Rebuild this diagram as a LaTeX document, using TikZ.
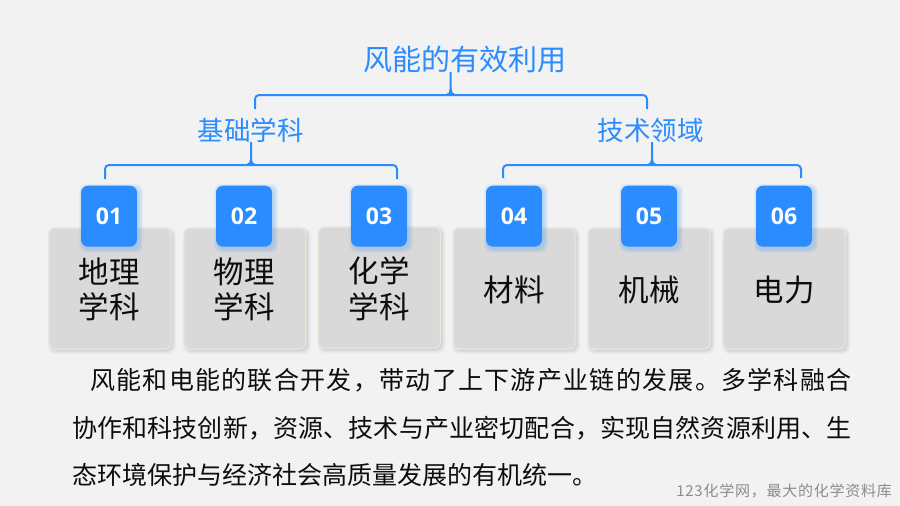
\documentclass[tikz,border=0pt]{standalone}
\usepackage{fontspec}
\setmainfont{Noto Sans CJK SC}
\newfontfamily\numfont{Open Sans}
\newfontfamily\paraA[LetterSpace=5.2]{Noto Sans CJK SC}
\newfontfamily\paraB[LetterSpace=0.6]{Noto Sans CJK SC}
\newfontfamily\markfont[LetterSpace=5]{Noto Sans CJK SC}
\usetikzlibrary{calc}
\definecolor{pagebg}{HTML}{F2F2F2}
\definecolor{cardgrey}{HTML}{D9D9D9}
\definecolor{cardedge}{HTML}{EDE8DA}
\definecolor{accent}{HTML}{2A8CFF}
\definecolor{inktext}{HTML}{0D0D0D}
\definecolor{markgrey}{HTML}{8C8C8C}
\tikzset{
  headline/.style={text=accent,inner sep=0pt,font=\fontsize{29}{34}\selectfont},
  subhead/.style={text=accent,inner sep=0pt,font=\fontsize{26.5}{32}\selectfont},
  card/.style={fill=cardgrey,draw=cardedge,line width=1pt,rounded corners=6pt,minimum width=122pt,minimum height=121pt,inner sep=0pt},
  cardtext/.style={inner sep=0pt,align=center,text=inktext,font=\fontsize{30.5}{35.5}\selectfont},
  badge/.style={fill=accent,rounded corners=7pt,minimum width=56pt,minimum height=61pt,inner sep=0pt,text=white,font=\numfont\bfseries\fontsize{23}{28}\selectfont},
  conn/.style={draw=accent,line width=2pt},
  para/.style={anchor=west,inner sep=0pt,text=inktext},
}
% soft shadow around a rectangle given by centre and size
\newcommand{\softshade}[6]{%
  \foreach \k in {1,...,5}{%
    \fill[#5,opacity=#6,rounded corners=7pt]
      ({#1-#3/2+2-\k*0.8},{#2-#4/2+2-\k*0.8}) rectangle ({#1+#3/2+2+\k*0.8},{#2+#4/2+2+\k*0.8});
  }%
}
\newcommand{\topic}[6]{% name, x, y, number, text, y of card
  \softshade{#2}{#6}{120}{119}{black}{0.025}
  \node[card] (card#1) at (#2,#6) {};
  \node[cardtext] (text#1) at (#3,#6+1) {#5};
  \softshade{#3}{216.2}{56}{61}{accent}{0.05}
  \node[badge] (badge#1) at (#3,216.2) {#4};
}
\newcommand{\bracket}[4]{% left, middle, right, tip
  \draw[conn,rounded corners=4pt] (#1) |- (#2) -| (#3);
  \draw[conn] ([xshift=-4pt]#2) to[out=0,in=270] ([yshift=6pt]#2) -- (#4);
  \draw[conn] ([xshift=4pt]#2) to[out=180,in=270] ([yshift=6pt]#2);
}
\begin{document}
\begin{tikzpicture}[x=1pt,y=-1pt]
\useasboundingbox (0,0) rectangle (900,506);
\fill[pagebg] (0,0) rectangle (900,506);

\node[headline] (title) at (464.5,59.5) {风能的有效利用};
\node[subhead] (basic) at (250.8,130.3) {基础学科};
\node[subhead] (tech) at (650.7,130.3) {技术领域};

\coordinate (b1l) at (255,109);
\coordinate (b1m) at (450.7,95);
\coordinate (b1r) at (647,109);
\coordinate (b1t) at (450.7,72);
\bracket{b1l}{b1m}{b1r}{b1t}

\coordinate (b2l) at (105,179);
\coordinate (b2m) at (251,165);
\coordinate (b2r) at (397,179);
\coordinate (b2t) at (251,142);
\bracket{b2l}{b2m}{b2r}{b2t}

\coordinate (b3l) at (503,178);
\coordinate (b3m) at (652,165);
\coordinate (b3r) at (801,178);
\coordinate (b3t) at (652,142);
\bracket{b3l}{b3m}{b3r}{b3t}

\topic{a}{109.8}{109}{01}{地理\\学科}{288.5}
\topic{b}{244.8}{244}{02}{物理\\学科}{288.5}
\topic{c}{379.3}{379}{03}{化学\\学科}{287.5}
\topic{d}{514}{514}{04}{材料}{288.5}
\topic{e}{649}{649}{05}{机械}{288.5}
\topic{f}{784}{784}{06}{电力}{288.5}

\node[para,font=\paraA\fontsize{25}{30}\selectfont] (line1) at (90,380) {风能和电能的联合开发，带动了上下游产业链的发展。多学科融合};
\node[para,font=\paraB\fontsize{25}{30}\selectfont] (line2) at (72,428) {协作和科技创新，资源、技术与产业密切配合，实现自然资源利用、生};
\node[para,font=\fontsize{25}{30}\selectfont] (line3) at (72,475) {态环境保护与经济社会高质量发展的有机统一。};
\node[anchor=east,inner sep=0pt,text=markgrey,font=\markfont\fontsize{15}{18}\selectfont] (mark) at (892,491) {123化学网，最大的化学资料库};
\end{tikzpicture}
\end{document}
